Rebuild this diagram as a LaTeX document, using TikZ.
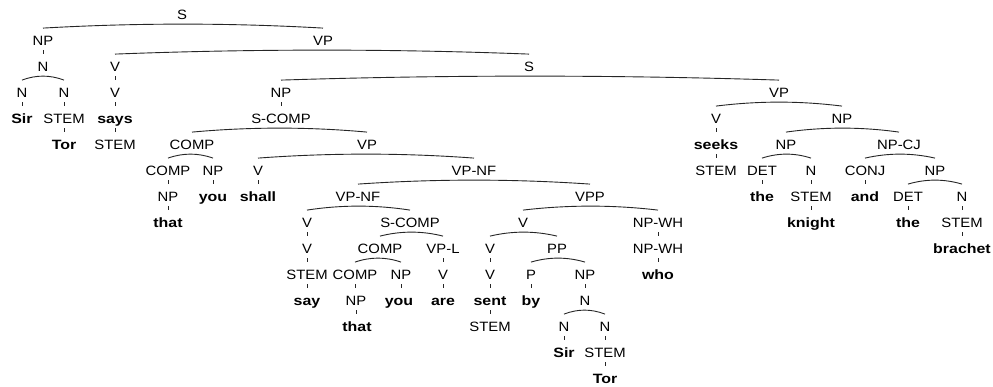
\documentclass[tikz,border=0pt]{standalone}
\usepackage{fontspec}
\usetikzlibrary{calc}
\newfontfamily\labfont{Liberation Sans}[FakeStretch=1.1]
\newfontfamily\wordfont{Liberation Sans}[FakeStretch=1.18]
\tikzset{
  lab/.style={anchor=base, inner sep=0pt, font=\labfont\fontsize{13.5}{16}\selectfont},
  wrd/.style={anchor=base, inner sep=0pt, font=\wordfont\bfseries\fontsize{13.5}{16}\selectfont},
  edge/.style={line width=0.9pt, draw=black!85}
}
% short tick from a label down to its only child
\newcommand\uedge[2]{\draw[edge] ($(#1.base |- #2.base)+(0,-21)$) -- ($(#1.base |- #2.base)+(0,-17)$);}
% shallow arc spanning two sibling labels
\newcommand\bedge[2]{\draw[edge] ($(#1.base)+(0,-17)$) .. controls ($(#1.base)!1/3!(#2.base)+(0,-22.3)$) and ($(#1.base)!2/3!(#2.base)+(0,-22.3)$) .. ($(#2.base)+(0,-17)$);}
\begin{document}
\begin{tikzpicture}[x=1pt,y=-1pt]
\fill[white] (0,0) rectangle (993,387);
\useasboundingbox (0,0) rectangle (993,387);
% row 0
\node[lab] (s0) at (182,19.1) {S};
% row 1
\node[lab] (np1) at (43,45.1) {NP};
\node[lab] (vp1) at (323,45.1) {VP};
% row 2
\node[lab] (n2) at (43,71.1) {N};
\node[lab] (v2) at (115,71.1) {V};
\node[lab] (s2) at (529,71.1) {S};
% row 3
\node[lab] (n3a) at (22,97.1) {N};
\node[lab] (n3b) at (64,97.1) {N};
\node[lab] (v3) at (115,97.1) {V};
\node[lab] (np3) at (281,97.1) {NP};
\node[lab] (vp3) at (779,97.1) {VP};
% row 4
\node[wrd] (sir4) at (22,123.1) {Sir};
\node[lab] (stem4) at (64,123.1) {STEM};
\node[wrd] (says4) at (115,123.1) {says};
\node[lab] (scomp4) at (281,123.1) {S-COMP};
\node[lab] (v4) at (716,123.1) {V};
\node[lab] (np4) at (842,123.1) {NP};
% row 5
\node[wrd] (tor5) at (64,149.1) {Tor};
\node[lab] (stem5) at (115,149.1) {STEM};
\node[lab] (comp5) at (192,149.1) {COMP};
\node[lab] (vp5) at (367,149.1) {VP};
\node[wrd] (seeks5) at (716,149.1) {seeks};
\node[lab] (np5) at (786,149.1) {NP};
\node[lab] (npcj5) at (899,149.1) {NP-CJ};
% row 6
\node[lab] (comp6) at (168,175.1) {COMP};
\node[lab] (np6) at (213,175.1) {NP};
\node[lab] (v6) at (258,175.1) {V};
\node[lab] (vpnf6) at (474,175.1) {VP-NF};
\node[lab] (stem6) at (716,175.1) {STEM};
\node[lab] (det6) at (762,175.1) {DET};
\node[lab] (n6) at (811,175.1) {N};
\node[lab] (conj6) at (865,175.1) {CONJ};
\node[lab] (np6b) at (935,175.1) {NP};
% row 7
\node[lab] (np7) at (168,201.1) {NP};
\node[wrd] (you7) at (213,201.1) {you};
\node[wrd] (shall7) at (258,201.1) {shall};
\node[lab] (vpnf7) at (358,201.1) {VP-NF};
\node[lab] (vpp7) at (590,201.1) {VPP};
\node[wrd] (the7) at (762,201.1) {the};
\node[lab] (stem7) at (811,201.1) {STEM};
\node[wrd] (and7) at (865,201.1) {and};
\node[lab] (det7) at (908,201.1) {DET};
\node[lab] (n7) at (962,201.1) {N};
% row 8
\node[wrd] (that8) at (168,227.1) {that};
\node[lab] (v8) at (307,227.1) {V};
\node[lab] (scomp8) at (410,227.1) {S-COMP};
\node[lab] (v8b) at (523,227.1) {V};
\node[lab] (npwh8) at (658,227.1) {NP-WH};
\node[wrd] (knight8) at (811,227.1) {knight};
\node[wrd] (the8) at (908,227.1) {the};
\node[lab] (stem8) at (962,227.1) {STEM};
% row 9
\node[lab] (v9) at (307,253.1) {V};
\node[lab] (comp9) at (380,253.1) {COMP};
\node[lab] (vpl9) at (443,253.1) {VP-L};
\node[lab] (v9b) at (490,253.1) {V};
\node[lab] (pp9) at (557,253.1) {PP};
\node[lab] (npwh9) at (658,253.1) {NP-WH};
\node[wrd] (brachet9) at (962,253.1) {brachet};
% row 10
\node[lab] (stem10) at (307,279.1) {STEM};
\node[lab] (comp10) at (355,279.1) {COMP};
\node[lab] (np10) at (401,279.1) {NP};
\node[lab] (v10) at (443,279.1) {V};
\node[lab] (v10b) at (490,279.1) {V};
\node[lab] (p10) at (531,279.1) {P};
\node[lab] (np10b) at (585,279.1) {NP};
\node[wrd] (who10) at (658,279.1) {who};
% row 11
\node[wrd] (say11) at (307,305.1) {say};
\node[lab] (np11) at (356,305.1) {NP};
\node[wrd] (you11) at (399,305.1) {you};
\node[wrd] (are11) at (443,305.1) {are};
\node[wrd] (sent11) at (490,305.1) {sent};
\node[wrd] (by11) at (531,305.1) {by};
\node[lab] (n11) at (585,305.1) {N};
% row 12
\node[wrd] (that12) at (357,331.1) {that};
\node[lab] (stem12) at (490,331.1) {STEM};
\node[lab] (n12a) at (564,331.1) {N};
\node[lab] (n12b) at (605,331.1) {N};
% row 13
\node[wrd] (sir13) at (564,357.1) {Sir};
\node[lab] (stem13) at (605,357.1) {STEM};
% row 14
\node[wrd] (tor14) at (605,383.1) {Tor};

% branching constituents
\bedge{np1}{vp1}
\bedge{n3a}{n3b}
\bedge{v2}{s2}
\bedge{np3}{vp3}
\bedge{comp5}{vp5}
\bedge{comp6}{np6}
\bedge{v6}{vpnf6}
\bedge{vpnf7}{vpp7}
\bedge{v8}{scomp8}
\bedge{comp9}{vpl9}
\bedge{comp10}{np10}
\bedge{v8b}{npwh8}
\bedge{v9b}{pp9}
\bedge{p10}{np10b}
\bedge{n12a}{n12b}
\bedge{v4}{np4}
\bedge{np5}{npcj5}
\bedge{det6}{n6}
\bedge{conj6}{np6b}
\bedge{det7}{n7}

% single-child links
\uedge{np1}{n2}
\uedge{n3a}{sir4}
\uedge{n3b}{stem4}
\uedge{stem4}{tor5}
\uedge{v2}{v3}
\uedge{v3}{says4}
\uedge{says4}{stem5}
\uedge{np3}{scomp4}
\uedge{comp6}{np7}
\uedge{np7}{that8}
\uedge{np6}{you7}
\uedge{v6}{shall7}
\uedge{v8}{v9}
\uedge{v9}{stem10}
\uedge{stem10}{say11}
\uedge{comp10}{np11}
\uedge{np11}{that12}
\uedge{np10}{you11}
\uedge{vpl9}{v10}
\uedge{v10}{are11}
\uedge{v9b}{v10b}
\uedge{v10b}{sent11}
\uedge{sent11}{stem12}
\uedge{p10}{by11}
\uedge{np10b}{n11}
\uedge{n12a}{sir13}
\uedge{n12b}{stem13}
\uedge{stem13}{tor14}
\uedge{npwh8}{npwh9}
\uedge{npwh9}{who10}
\uedge{v4}{seeks5}
\uedge{seeks5}{stem6}
\uedge{det6}{the7}
\uedge{n6}{stem7}
\uedge{stem7}{knight8}
\uedge{conj6}{and7}
\uedge{det7}{the8}
\uedge{n7}{stem8}
\uedge{stem8}{brachet9}
\end{tikzpicture}
\end{document}
